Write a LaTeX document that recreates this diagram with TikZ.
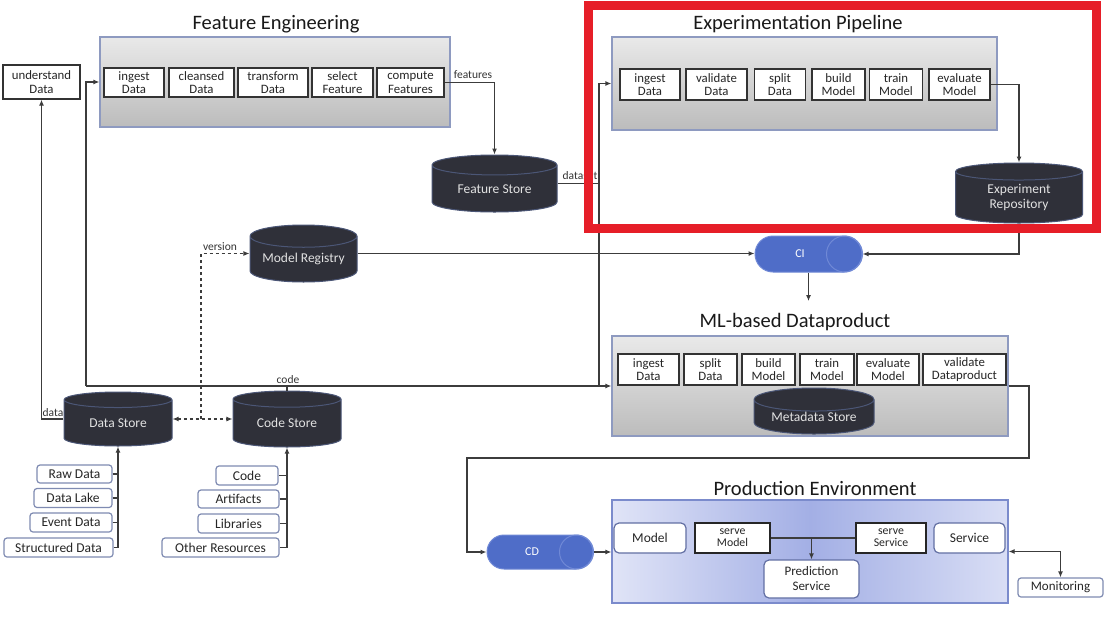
\documentclass[tikz,border=0pt]{standalone}
\usepackage{fontspec}
\setmainfont{Carlito}
\usetikzlibrary{shapes.geometric,arrows.meta,calc}

\definecolor{linegray}{HTML}{3C3C3C}
\definecolor{groupedge}{HTML}{8E9AC0}
\definecolor{grouptop}{HTML}{E9E9E9}
\definecolor{groupbot}{HTML}{BCBCBC}
\definecolor{dbfill}{HTML}{2F3039}
\definecolor{dbedge}{HTML}{4B5676}
\definecolor{dbtext}{HTML}{E2E2E2}
\definecolor{cifill}{HTML}{4F6DC8}
\definecolor{ciedge}{HTML}{7089D6}
\definecolor{prodL}{HTML}{E0E4F7}
\definecolor{prodM}{HTML}{A3AFE5}
\definecolor{prodR}{HTML}{D9DEF5}
\definecolor{prodedge}{HTML}{7B8BCC}
\definecolor{srcedge}{HTML}{7F8BB2}
\definecolor{markred}{HTML}{E61E28}

\tikzset{
  group/.style={draw=groupedge, line width=1.2pt, top color=grouptop, bottom color=groupbot, inner sep=0pt},
  grouptitle/.style={font=\fontsize{20.5}{22}\selectfont, text=black!90, inner sep=0pt},
  stepbox/.style={draw=black!80, line width=1.3pt, fill=white, align=center, inner sep=0pt,
    font=\fontsize{12.8}{13.2}\selectfont, text=black!85},
  dbstore/.style={cylinder, shape border rotate=90, aspect=0.27, draw=dbedge, line width=1pt,
    cylinder uses custom fill, cylinder body fill=dbfill, cylinder end fill=dbfill,
    text=dbtext, font=\fontsize{13.5}{15}\selectfont, align=center, inner sep=0pt,
    anchor=shape center},
  pillbox/.style={rectangle, rounded corners=17pt, draw=ciedge, line width=1pt, fill=cifill, inner sep=0pt},
  pilltext/.style={text=white, font=\fontsize{12}{13}\selectfont, inner sep=0pt},
  source/.style={draw=srcedge, line width=1.2pt, rounded corners=3pt, fill=white, inner sep=0pt,
    font=\fontsize{13.5}{14}\selectfont, text=black!85},
  prodbox/.style={draw=prodedge!80!black, line width=1.2pt, rounded corners=5pt, fill=white,
    align=center, inner sep=0pt, font=\fontsize{13.5}{15}\selectfont, text=black!85},
  servebox/.style={draw=black!85, line width=1.5pt, fill=white, align=center, inner sep=0pt,
    font=\fontsize{11.8}{12.2}\selectfont, text=black!85},
  conn/.style={draw=linegray, line width=1.2pt},
  arrowed/.style={-{Latex[length=6pt,width=5pt]}},
  twoway/.style={{Latex[length=6pt,width=5pt]}-{Latex[length=6pt,width=5pt]}},
  flowlabel/.style={font=\fontsize{11.5}{12}\selectfont, text=black!80, inner sep=0pt}
}

\begin{document}
\begin{tikzpicture}[x=1pt,y=-1pt]
\fill[white] (0,0) rectangle (1114,619);
\useasboundingbox (0,0) rectangle (1114,619);

% ---------- Feature Engineering ----------
\node[grouptitle] (fet) at (276,24) {Feature Engineering};
\node[group, minimum width=350, minimum height=90] (fe) at (275,82) {};
\node[stepbox, minimum width=60, minimum height=29] (fe1) at (134,82.5) {ingest\\Data};
\node[stepbox, minimum width=65, minimum height=29] (fe2) at (201.5,82.5) {cleansed\\Data};
\node[stepbox, minimum width=70, minimum height=29] (fe3) at (273,82.5) {transform\\Data};
\node[stepbox, minimum width=61, minimum height=29] (fe4) at (342.5,82.5) {select\\Feature};
\node[stepbox, minimum width=67, minimum height=29] (fe5) at (410.5,82.5) {compute\\Features};
\node[stepbox, minimum width=77, minimum height=34] (ud) at (41.5,82) {understand\\Data};

\node[dbstore, minimum width=125, minimum height=57] (fs) at (494.5,183.5) {Feature Store};

% ---------- Experimentation Pipeline ----------
\node[grouptitle] (ept) at (798,24) {Experimentation Pipeline};
\node[group, minimum width=385, minimum height=93] (ep) at (804.5,83.5) {};
\node[stepbox, minimum width=60, minimum height=31] (ep1) at (650,84.5) {ingest\\Data};
\node[stepbox, minimum width=61, minimum height=31] (ep2) at (716.5,84.5) {validate\\Data};
\node[stepbox, minimum width=51, minimum height=31] (ep3) at (780,84.5) {split\\Data};
\node[stepbox, minimum width=53, minimum height=31] (ep4) at (838.5,84.5) {build\\Model};
\node[stepbox, minimum width=53, minimum height=31] (ep5) at (896,84.5) {train\\Model};
\node[stepbox, minimum width=61, minimum height=31] (ep6) at (959.5,84.5) {evaluate\\Model};

\node[dbstore, minimum width=127, minimum height=60] (er) at (1019,193) {Experiment\\Repository};

% ---------- Registry, CI ----------
\node[dbstore, minimum width=107, minimum height=57] (mr) at (303.5,253.5) {Model Registry};
\node[pillbox, minimum width=107, minimum height=36, rounded corners=18pt] (ci) at (808.5,254) {};
\draw[ciedge, line width=1pt] ($(ci.east)+(-18,0)$) circle[radius=18pt];
\node[pilltext] (citxt) at ($(ci.center)+(-8.5,0)$) {CI};

% ---------- ML-based Dataproduct ----------
\node[grouptitle] (mlt) at (795,322) {ML-based Dataproduct};
\node[group, minimum width=396, minimum height=100] (ml) at (810,386) {};
\node[stepbox, minimum width=61, minimum height=31] (ml1) at (648.5,369.5) {ingest\\Data};
\node[stepbox, minimum width=53, minimum height=31] (ml2) at (710.5,369.5) {split\\Data};
\node[stepbox, minimum width=53, minimum height=31] (ml3) at (768.5,369.5) {build\\Model};
\node[stepbox, minimum width=54, minimum height=31] (ml4) at (827,369.5) {train\\Model};
\node[stepbox, minimum width=62, minimum height=31] (ml5) at (888,369.5) {evaluate\\Model};
\node[stepbox, minimum width=83, minimum height=31] (ml6) at (964.5,369.5) {validate\\Dataproduct};
\node[dbstore, minimum width=120, minimum height=46] (mds) at (814,411) {Metadata Store};

% ---------- Data and code stores ----------
\node[dbstore, minimum width=108, minimum height=54] (ds) at (118,419) {Data Store};
\node[dbstore, minimum width=108, minimum height=56] (cs) at (287,419) {Code Store};

\node[source, minimum width=75, minimum height=18] (s1) at (74.5,474) {Raw Data};
\node[source, minimum width=78, minimum height=19] (s2) at (73,498) {Data Lake};
\node[source, minimum width=82, minimum height=19] (s3) at (71,522.5) {Event Data};
\node[source, minimum width=109, minimum height=19] (s4) at (58.5,547.5) {Structured Data};

\node[source, minimum width=62, minimum height=19] (c1) at (247,475.5) {Code};
\node[source, minimum width=81, minimum height=18] (c2) at (238.5,499) {Artifacts};
\node[source, minimum width=81, minimum height=19] (c3) at (238.5,523.5) {Libraries};
\node[source, minimum width=117, minimum height=19] (c4) at (220.5,547.5) {Other Resources};

% ---------- Production Environment ----------
\node[grouptitle] (pet) at (815,488) {Production Environment};
\node[draw=prodedge, line width=1.2pt, left color=prodL, right color=prodR, middle color=prodM,
      minimum width=396, minimum height=103, inner sep=0pt] (pe) at (810,551.5) {};
\node[prodbox, minimum width=72, minimum height=30] (pm) at (650,538) {Model};
\node[servebox, minimum width=75, minimum height=30] (psm) at (732.5,538) {serve\\Model};
\node[servebox, minimum width=70, minimum height=30] (pss) at (891,538) {serve\\Service};
\node[prodbox, minimum width=71, minimum height=30] (ps) at (969.5,538) {Service};
\node[prodbox, minimum width=95, minimum height=38, font=\fontsize{13}{15}\selectfont] (pps) at (811.5,579) {Prediction\\Service};
\node[pillbox, minimum width=106, minimum height=34] (cd) at (540,552) {};
\draw[ciedge, line width=1pt] ($(cd.east)+(-17,0)$) circle[radius=17pt];
\node[pilltext] (cdtxt) at ($(cd.center)+(-8,0)$) {CD};
\node[source, minimum width=85, minimum height=19, font=\fontsize{13}{14}\selectfont] (mon) at (1060.5,587.5) {Monitoring};

% ---------- junction points ----------
\coordinate (dv) at (599,386);
\coordinate (cj) at (86,386);
\coordinate (vj) at (201,419);
\coordinate (r1) at (1029,458);
\coordinate (r2) at (467,458);

% ---------- connectors ----------
\draw[conn, arrowed] (fe5.east) -| (fs.north);
\node[flowlabel, anchor=south] (lfeat) at (473,79) {features};

\draw[conn] (fs.shape center -| fs.east) -- (fs.shape center -| dv);
\node[flowlabel, anchor=south] (lds) at (580,180) {dataset};

\draw[conn, arrowed] (dv) |- (ep.west);
\draw[conn, arrowed] (dv) -- (ml.west);
\draw[conn] (cj) -- (dv);
\draw[conn, arrowed] (cj) |- (fe.west);
\draw[conn] (cs.north) -- (cs.north |- cj);
\node[flowlabel, anchor=south] (lcode) at (288,384) {code};

\draw[conn, arrowed] (ds.shape center -| ds.west) -| (ud.south);
\node[flowlabel, anchor=south] (ldata) at (53,417) {data};

\draw[conn, dashed, twoway] (ds.shape center -| ds.east) -- (cs.shape center -| cs.west);
\draw[conn, dashed, arrowed] (vj) |- (mr.shape center -| mr.west);
\node[flowlabel, anchor=south] (lver) at (220,251) {version};

\draw[conn, arrowed] (s4.east) -| (ds.south);
\foreach \s in {s1,s2,s3} \draw[conn] (\s.east) -- (\s.east -| ds.south);
\draw[conn, arrowed] (c4.east) -| (cs.south);
\foreach \s in {c1,c2,c3} \draw[conn] (\s.east) -- (\s.east -| cs.south);

\draw[conn, arrowed] (mr.shape center -| mr.east) -- (mr.shape center -| ci.west);
\draw[conn, arrowed] (ep6.east) -| (er.north);
\draw[conn, arrowed] (er.south) |- (ci.east);
\draw[conn, arrowed, shorten >=12pt] (ci.south) -- (ci.south |- mlt.north);

\draw[conn, arrowed] (ml.east) -| (r1) -- (r2) |- (cd.west);
\draw[conn, arrowed] (cd.east) -- (cd.east -| pe.west);
\draw[conn] (psm.east) -- (pss.west);
\draw[conn, arrowed] (psm.east -| pps.north) -- (pps.north);
\draw[conn, twoway] (pe.east) -| (mon.north);

% ---------- highlight frame ----------
\draw[markred, line width=9pt] (588,5) rectangle (1096,228);
\end{tikzpicture}
\end{document}
